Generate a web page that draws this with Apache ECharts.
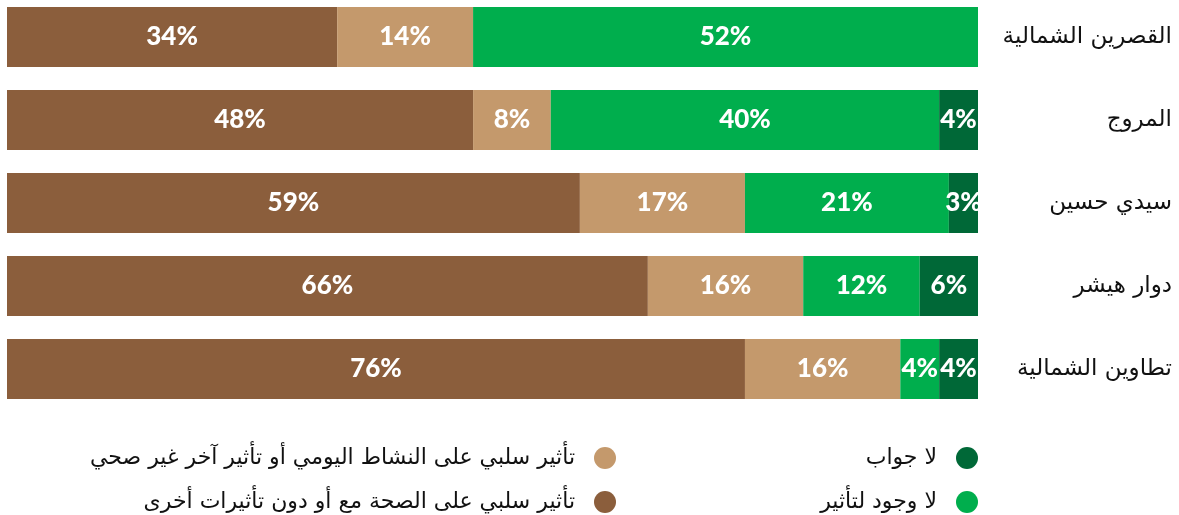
<!DOCTYPE html>
<html>
<head>
<meta charset="utf-8">
<script src="https://cdn.jsdelivr.net/npm/echarts@6/dist/echarts.min.js"></script>
<style>
  html, body { margin: 0; padding: 0; background: #fff; }
  #chart { width: 1179px; height: 515px; }
</style>
</head>
<body>
<div id="chart"></div>
<script>
// المناطق
const categories = ['القصرين الشمالية', 'المروج', 'سيدي حسين', 'دوار هيشر', 'تطاوين الشمالية'];
// النسب المئوية لكل فئة
const healthImpact = [34, 48, 59, 66, 76];
const otherImpact = [14, 8, 17, 16, 16];
const noImpact = [52, 40, 21, 12, 4];
const noAnswer = [0, 4, 3, 6, 4];

const names = {
  health: 'تأثير سلبي على الصحة مع أو دون تأثيرات أخرى',
  other: 'تأثير سلبي على النشاط اليومي أو تأثير آخر غير صحي',
  none: 'لا وجود لتأثير',
  na: 'لا جواب'
};

const arabicFont = '"DejaVu Sans", sans-serif';

let myChart = echarts.init(document.getElementById('chart'));

function makeSeries(name, data, color) {
  return {
    name: name,
    type: 'bar',
    stack: 'total',
    barWidth: 60,
    itemStyle: { color: color },
    label: {
      show: true,
      position: 'inside',
      color: '#fff',
      fontFamily: 'Lato',
      fontWeight: 900,
      fontSize: 26,
      padding: [3, 0, 0, 0],
      formatter: p => p.value > 0 ? p.value + '%' : ''
    },
    data: data
  };
}

// كل عنصر من المفتاح في مكانه
function makeLegend(name, right, top) {
  return {
    right: right,
    top: top,
    padding: 0,
    align: 'right',
    icon: 'circle',
    itemWidth: 22,
    itemHeight: 22,
    selectedMode: false,
    textStyle: {
      fontSize: 22,
      lineHeight: 22,
      color: '#111',
      fontFamily: arabicFont,
      padding: [0, 14, 0, 0]
    },
    data: [name]
  };
}

let option = {
  animation: false,
  grid: { left: 7, right: 201, top: 37, height: 332, containLabel: false },
  xAxis: { type: 'value', min: 0, max: 100, show: false },
  yAxis: {
    type: 'category',
    position: 'right',
    inverse: true,
    boundaryGap: false,
    data: categories,
    axisLine: { show: false },
    axisTick: { show: false },
    splitLine: { show: false },
    axisLabel: {
      align: 'right',
      margin: 194,
      color: '#111',
      fontSize: 23,
      fontFamily: arabicFont,
      padding: [8, 0, 0, 0]
    }
  },
  legend: [
    makeLegend(names.na, 201, 447),
    makeLegend(names.none, 201, 491),
    makeLegend(names.other, 563, 447),
    makeLegend(names.health, 563, 491)
  ],
  series: [
    makeSeries(names.health, healthImpact, '#8B5E3C'),
    makeSeries(names.other, otherImpact, '#C4996C'),
    makeSeries(names.none, noImpact, '#00AE4D'),
    makeSeries(names.na, noAnswer, '#006837')
  ]
};
myChart.setOption(option);
</script>
</body>
</html>
